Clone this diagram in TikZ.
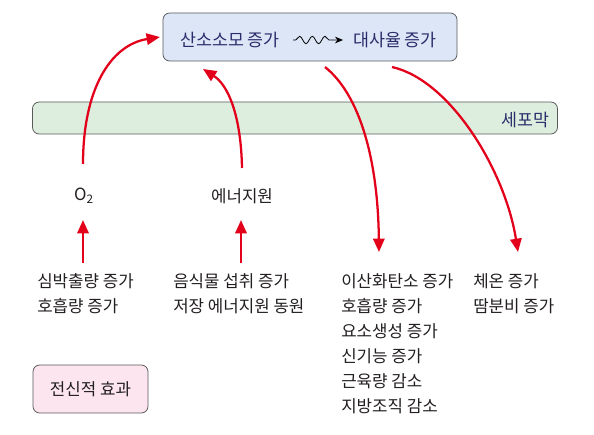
\documentclass[tikz,border=0pt]{standalone}
\usepackage{fontspec}
\setmainfont{Noto Sans CJK KR}
\usepackage{tikz}
\usetikzlibrary{arrows.meta,decorations.pathmorphing,positioning,calc}
\definecolor{effred}{HTML}{E2001A}
\definecolor{boxblue}{HTML}{DCE6F7}
\definecolor{boxgreen}{HTML}{DDEEDF}
\definecolor{boxpink}{HTML}{FCE5EF}
\definecolor{navytext}{HTML}{2B2D6B}
\definecolor{bodytext}{HTML}{231F20}
\tikzset{
  redarrow/.style={draw=effred, line width=1.7pt, -{Triangle[length=10pt,width=8.5pt]}},
  roundbox/.style={draw=black!65, rounded corners=5pt, line width=0.6pt, inner sep=0pt},
  listtext/.style={align=left, anchor=north west, text=bodytext, inner sep=0pt,
    font=\fontsize{12.6}{18.75}\selectfont},
  topfont/.style={text=navytext, inner sep=0pt, font=\fontsize{13}{15}\selectfont},
}

\begin{document}
\begin{tikzpicture}[x=0.75pt,y=-0.75pt]
\useasboundingbox (0,0) rectangle (594,435);
% boxes
\node[roundbox, fill=boxblue, minimum width=220.5pt, minimum height=36pt] (effect) at (310,37) {};
\node[topfont] (oxy) at (230,40) {산소소모 증가};
\node[topfont] (meta) at (395,40) {대사율 증가};
\coordinate (wavyA) at (293,40);
\coordinate (wavyB) at (343,40);
\draw[decorate, decoration={snake, amplitude=2.8pt, segment length=9.5pt, pre length=2pt, post length=6pt},
  -{Stealth[length=6pt,width=5pt]}, line width=0.6pt] (wavyA) -- (wavyB);
\node[roundbox, fill=boxgreen, minimum width=393.75pt, minimum height=24pt] (membrane) at (295,118) {};
\node[topfont, anchor=east] (memlabel) at (550,120) {세포막};
\node[roundbox, fill=boxpink, minimum width=86.25pt, minimum height=36pt, text=bodytext,
  font=\fontsize{12.6}{15}\selectfont] (whole) at (90.5,389) {전신적 효과};
% inputs
\node[text=bodytext, font=\fontsize{12.6}{15}\selectfont] (o2) at (84,196) {O\textsubscript{2}};
\node[text=bodytext, font=\fontsize{12.6}{15}\selectfont] (energy) at (242,196) {에너지원};
\node[listtext] (heart) at (37,273) {심박출량 증가\\호흡량 증가};
\node[listtext] (food) at (173,273) {음식물 섭취 증가\\저장 에너지원 동원};
% outputs
\node[listtext] (co2) at (341,273) {이산화탄소 증가\\호흡량 증가\\요소생성 증가\\신기능 증가\\근육량 감소\\지방조직 감소};
\node[listtext] (heat) at (473,273) {체온 증가\\땀분비 증가};
\coordinate (o2top) at (83,164);
\coordinate (o2low) at (83,220);
\coordinate (enlow) at (241,220);
\coordinate (entop) at (242,168);
\coordinate (ento) at (203,69);
\coordinate (outA) at (325,67);
\coordinate (outB) at (392,67);
\coordinate (co2tip) at (379,252);
\coordinate (heattip) at (518,252);
\draw[redarrow] (o2low |- heart.north) ++(0,-10) -- (o2low);
\draw[redarrow] (enlow |- food.north) ++(0,-10) -- (enlow);
\draw[redarrow] (o2top) .. controls (83,90) and (110,45) .. ([xshift=-2pt]effect.west);
\draw[redarrow] (entop) .. controls (241,115) and (228,85) .. (ento);
\draw[redarrow] (outA) .. controls (360,95) and (378,160) .. (co2tip);
\draw[redarrow] (outB) .. controls (450,80) and (505,170) .. (heattip);
\end{tikzpicture}
\end{document}
